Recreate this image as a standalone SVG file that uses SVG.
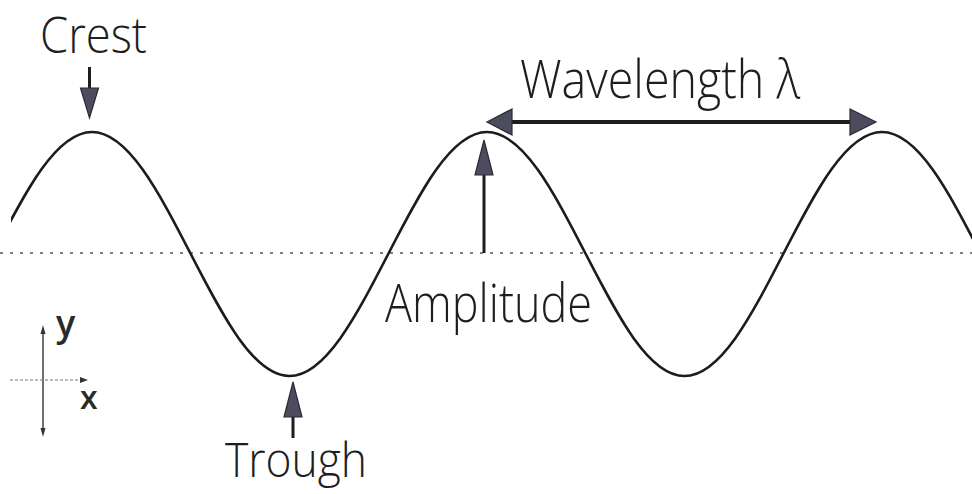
<svg xmlns="http://www.w3.org/2000/svg" width="972" height="494" viewBox="0 0 972 494">
<style>
.lbl{font-family:"Open Sans","Liberation Sans",sans-serif;font-weight:300;fill:#1e1e1e}
.ax{font-family:"Open Sans","Liberation Sans",sans-serif;font-weight:600;fill:#2a2a2a}
.ln{stroke:#1e1e22;stroke-width:3;fill:none}
.head{fill:#4d4b5e;stroke:#2a2a33;stroke-width:1.2}
.wave{stroke:#1c1c1c;stroke-width:2.6;fill:none}
.mid{stroke:#555;stroke-width:1.6;stroke-dasharray:3 7;fill:none}
</style>
<defs>
<clipPath id="clip"><rect x="11" y="0" width="961" height="494"/></clipPath>
</defs>
<rect width="972" height="494" fill="#fff"/>
<g id="midline"><line class="mid" x1="0" y1="253" x2="972" y2="253"/></g>
<g id="wave">
<path class="wave" clip-path="url(#clip)" d="M -6.75,254 C 25.45,191.5 56.25,132 92,132 C 127.7,132 158.5,191.5 190.75,254 C 222.95,316.5 253.75,376 289.5,376 C 325.2,376 356,316.5 388.25,254 C 420.45,191.5 451.25,132 487,132 C 522.7,132 553.5,191.5 585.75,254 C 617.950,316.5 648.75,376 684.5,376 C 720.2,376 751,316.5 783.25,254 C 815.45,191.5 846.25,132 882,132 C 917.7,132 948.5,191.5 980.75,254"/>
</g>
<g id="connectors">
<g id="crest-arrow"><line class="ln" x1="89.5" y1="67" x2="89.5" y2="90"/><polygon class="head" points="80.5,88 98.5,88 89.5,118"/></g>
<g id="trough-arrow"><line class="ln" x1="293" y1="438" x2="293" y2="415"/><polygon class="head" points="284,417 302,417 293,382"/></g>
<g id="amplitude-arrow"><line class="ln" x1="484" y1="253" x2="484" y2="174"/><polygon class="head" points="475,175 493,175 484,140"/></g>
<g id="wavelength-arrow"><line class="ln" x1="510" y1="122" x2="852" y2="122" style="stroke-width:4"/><polygon class="head" points="512,109 512,135 487,122"/><polygon class="head" points="850,109 850,135 876,122"/></g>
</g>
<g id="axes">
<line x1="43" y1="330" x2="43" y2="432" stroke="#333" stroke-width="1.4"/>
<polygon points="40.5,334 45.5,334 43,325" fill="#333"/>
<polygon points="40.5,428 45.5,428 43,437" fill="#333"/>
<line x1="10" y1="380" x2="82" y2="380" stroke="#777" stroke-width="1.2" stroke-dasharray="3 2"/>
<polygon points="80,377 80,383 88,380" fill="#333"/>
<text class="ax" x="56" y="336" font-size="36">y</text>
<text class="ax" x="80" y="409" font-size="32">x</text>
</g>
<g id="crest"><text class="lbl" x="40" y="53" font-size="50" textLength="107" lengthAdjust="spacingAndGlyphs">Crest</text></g>
<g id="wavelength"><text class="lbl" x="520" y="98" font-size="54" textLength="280" lengthAdjust="spacingAndGlyphs">Wavelength λ</text></g>
<g id="amplitude"><text class="lbl" x="385" y="322" font-size="53" textLength="207" lengthAdjust="spacingAndGlyphs">Amplitude</text></g>
<g id="trough"><text class="lbl" x="225" y="477" font-size="48" textLength="142" lengthAdjust="spacingAndGlyphs">Trough</text></g>
</svg>
